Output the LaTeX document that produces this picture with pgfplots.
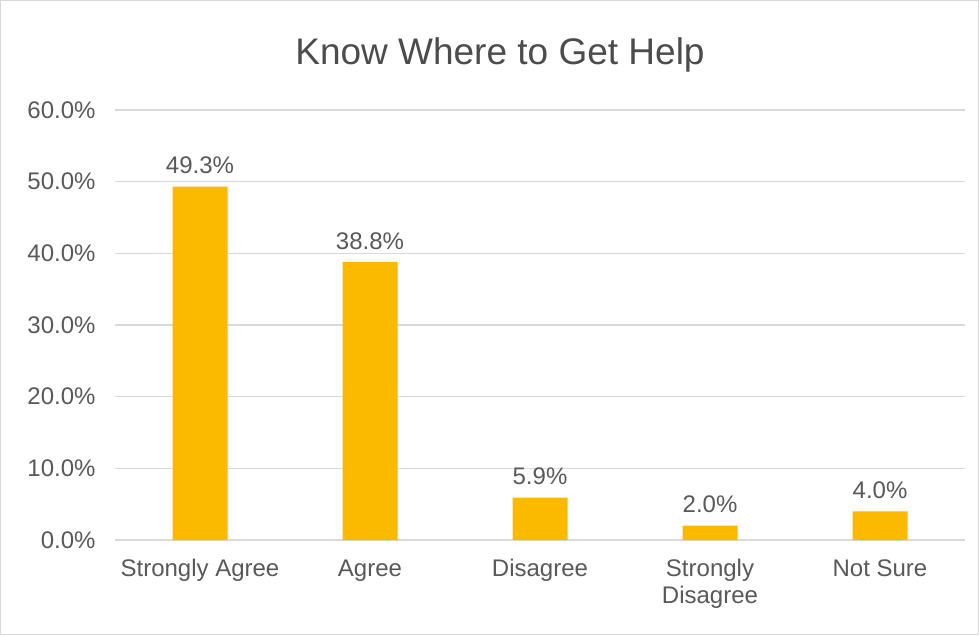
\documentclass[border=0pt]{standalone}
\usepackage{pgfplots}
\pgfplotsset{compat=1.18}
\usepackage{fontspec}
\setmainfont{Liberation Sans}
\definecolor{barc}{HTML}{FBBA00}
\definecolor{txt}{HTML}{595959}
\definecolor{grid}{HTML}{D9D9D9}
\begin{document}
\begin{tikzpicture}[x=1pt,y=1pt]
\draw[draw=grid,line width=1.2pt,fill=white] (0.6,0.6) rectangle (978.4,634.4);
\node[text=txt!85!black,font=\fontsize{37}{40}\selectfont] at (500,580) {Know Where to Get Help};
\begin{axis}[
  at={(115pt,95pt)}, anchor=south west,
  scale only axis, width=850pt, height=430pt,
  xmin=-0.5, xmax=4.5, ymin=0, ymax=60,
  ytick={0,10,20,30,40,50,60},
  yticklabels={0.0\%,10.0\%,20.0\%,30.0\%,40.0\%,50.0\%,60.0\%},
  xtick={0,1,2,3,4},
  xticklabels={Strongly Agree,Agree,Disagree,{Strongly\\Disagree},Not Sure},
  xticklabel style={align=center,font=\fontsize{24}{27}\selectfont,text=txt,yshift=-16pt},
  yticklabel style={font=\fontsize{24}{27}\selectfont,text=txt,xshift=-16pt},
  /pgf/number format/assume math mode=true,
  ymajorgrids, grid style={draw=grid,line width=1.2pt},
  axis x line*=bottom,
  axis y line*=left,
  x axis line style={draw=grid,line width=1.2pt,-},
  y axis line style={draw=none},
  major tick length=0pt,
  ybar, bar width=55pt,
  nodes near coords={\pgfmathprintnumber[fixed,fixed zerofill,precision=1]{\pgfplotspointmeta}\%},
  nodes near coords style={font=\fontsize{24}{27}\selectfont,text=txt,yshift=9pt},
  clip=false,
]
\addplot[fill=barc,draw=none] coordinates {(0,49.3) (1,38.8) (2,5.9) (3,2.0) (4,4.0)};
\end{axis}
\end{tikzpicture}
\end{document}
